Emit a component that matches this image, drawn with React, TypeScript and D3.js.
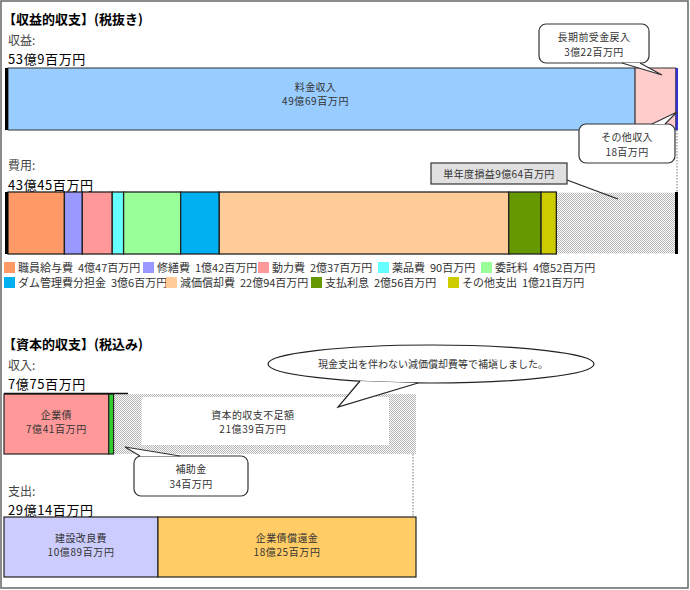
import React from 'react';
import * as d3 from 'd3';

// 収益的収支 (単位: 億円)
const revenueCats = ['料金収入', '長期前受金戻入', 'その他収入'];
const revenueVals = [49.69, 3.22, 0.18];
const revenueColors = ['#99ccff', '#ffcccc', '#3333cc'];

const expenseCats = ['職員給与費', '修繕費', '動力費', '薬品費', '委託料', 'ダム管理費分担金', '減価償却費', '支払利息', 'その他支出'];
const expenseVals = [4.47, 1.42, 2.37, 0.9, 4.52, 3.06, 22.94, 2.56, 1.21];
const expenseColors = ['#ff9966', '#9999ff', '#ff9999', '#66ffff', '#99ff99', '#00b0f0', '#ffcc99', '#669900', '#cccc00'];

// 資本的収支 (単位: 億円)
const capIncomeCats = ['企業債', '補助金'];
const capIncomeVals = [7.41, 0.34];
const capIncomeColors = ['#ff9999', '#33cc33'];

const capExpenseCats = ['建設改良費', '企業債償還金'];
const capExpenseVals = [10.89, 18.25];
const capExpenseColors = ['#ccccff', '#ffcc66'];

// legend layout (row, x)
const legendRow = [0, 0, 0, 0, 0, 1, 1, 1, 1];
const legendX = [4, 143, 258, 378, 481, 4, 166, 311, 448];

const FONT = '"Noto Sans CJK JP", "Noto Sans", sans-serif';

const fmt = (v: number) => {
  const oku = Math.floor(v + 1e-9);
  const man = Math.round((v - oku) * 100);
  return oku > 0 ? `${oku}億${man}百万円` : `${man}百万円`;
};

const stack = (vals: number[]) => {
  let acc = 0;
  return vals.map(v => {
    const s = acc;
    acc += v;
    return [s, acc];
  });
};

const Callout: React.FC<{ x: number; y: number; w: number; h: number; tail: [number, number][]; lines: string[] }> = ({ x, y, w, h, tail, lines }) => (
  <g>
    <rect x={x} y={y} width={w} height={h} rx={7} fill="#fff" stroke="#333" strokeWidth={1.2} />
    <path d={d3.line()(tail) + 'Z'} fill="#fff" stroke="none" />
    <path d={d3.line()(tail)!} fill="none" stroke="#333" strokeWidth={1.2} />
    {lines.map((t, i) => (
      <text key={i} x={x + w / 2} y={y + 17 + i * 15} textAnchor="middle" fontSize={10} fill="#333" letterSpacing={0.4}>{t}</text>
    ))}
  </g>
);

export default function App() {
  const revTotal = d3.sum(revenueVals);
  const expTotal = d3.sum(expenseVals);
  const capInTotal = d3.sum(capIncomeVals);
  const capOutTotal = d3.sum(capExpenseVals);

  const x1 = d3.scaleLinear().domain([0, revTotal]).range([8, 678]);
  const x2 = d3.scaleLinear().domain([0, capOutTotal]).range([4, 416]);

  const revStack = stack(revenueVals);
  const expStack = stack(expenseVals);
  const capInStack = stack(capIncomeVals);
  const capOutStack = stack(capExpenseVals);

  const revY = 68, revH = 62;
  const expY = 192, expH = 62;
  const ciY = 394, ciH = 60;
  const coY = 517, coH = 60;

  const barLabel = (cx: number, y: number, a: string, b: string) => (
    <g>
      <text x={cx} y={y + 25} textAnchor="middle" fontSize={10} fill="#333" letterSpacing={0.4}>{a}</text>
      <text x={cx} y={y + 39} textAnchor="middle" fontSize={10} fill="#333" letterSpacing={0.6}>{b}</text>
    </g>
  );

  return (
    <svg width={690} height={590} style={{ position: 'absolute', left: 0, top: 0 }} fontFamily={FONT}>
      <defs>
        <pattern id="hatch" width={2} height={2} patternUnits="userSpaceOnUse">
          <rect width={2} height={2} fill="#fff" shapeRendering="crispEdges" />
          <rect width={1} height={1} fill="#b4b4b4" shapeRendering="crispEdges" />
          <rect x={1} y={1} width={1} height={1} fill="#b4b4b4" shapeRendering="crispEdges" />
        </pattern>
      </defs>
      <rect x={0} y={0} width={690} height={590} fill="#fff" />
      <rect x={1} y={1} width={687} height={587} fill="none" stroke="#666" strokeWidth={1.5} />

      {/* 収益的収支 */}
      <text x={3} y={24} fontSize={13} fontWeight="bold" fill="#000">【収益的収支】(税抜き)</text>
      <text x={8} y={45} fontSize={12} fill="#444">収益:</text>
      <text x={8} y={64} fontSize={13} fill="#000" letterSpacing={0.6}>{fmt(revTotal)}</text>

      {revenueVals.map((v, i) => (
        <rect key={revenueCats[i]} x={x1(revStack[i][0])} y={revY} width={x1(revStack[i][1]) - x1(revStack[i][0])} height={revH}
          fill={revenueColors[i]} stroke="#333" strokeWidth={i === 2 ? 0 : 1} />
      ))}
      <rect x={5} y={revY} width={3} height={revH} fill="#000" />
      {barLabel((x1(revStack[0][0]) + x1(revStack[0][1])) / 2 - 6, revY - 2, revenueCats[0], fmt(revenueVals[0]))}

      <line x1={x1(revTotal) - 1} x2={x1(revTotal) - 1} y1={revY + revH} y2={expY} stroke="#555" strokeWidth={0.8} strokeDasharray="1.5,1.5" />

      <text x={8} y={170} fontSize={12} fill="#444">費用:</text>
      <text x={8} y={190} fontSize={13} fill="#000" letterSpacing={0.6}>{fmt(expTotal)}</text>

      {expenseVals.map((v, i) => (
        <rect key={expenseCats[i]} x={x1(expStack[i][0])} y={expY} width={x1(expStack[i][1]) - x1(expStack[i][0])} height={expH}
          fill={expenseColors[i]} stroke="#222" strokeWidth={1.3} />
      ))}
      <rect x={x1(expTotal) + 0.7} y={expY + 0.7} width={x1(revTotal) - x1(expTotal) - 0.7} height={expH - 1.4} fill="url(#hatch)" />
      <rect x={5} y={expY} width={3} height={expH} fill="#000" />
      <rect x={x1(revTotal) - 3} y={expY} width={3} height={expH} fill="#000" />

      {/* legend */}
      {expenseCats.map((c, i) => (
        <g key={c} transform={`translate(${legendX[i]},${262 + legendRow[i] * 15})`}>
          <rect width={11} height={11} fill={expenseColors[i]} />
          <text x={14} y={10} fontSize={11} fill="#333" style={{ whiteSpace: 'pre' }}>{`${c}  ${fmt(expenseVals[i])}`}</text>
        </g>
      ))}

      <Callout x={539} y={24} w={110} h={39} tail={[[622, 63], [662, 75], [640, 63]]} lines={[revenueCats[1], fmt(revenueVals[1])]} />
      <Callout x={579} y={124} w={96} h={39} tail={[[652, 124], [677, 112], [665, 124]]} lines={[revenueCats[2], fmt(revenueVals[2])]} />

      <line x1={567} y1={180} x2={618} y2={199} stroke="#222" strokeWidth={1.2} />
      <rect x={431} y={163} width={136} height={21} fill="#e0e0e0" stroke="#333" strokeWidth={1.2} />
      <text x={499} y={178} textAnchor="middle" fontSize={10} fill="#333" letterSpacing={0.4}>{`単年度損益${fmt(revTotal - expTotal)}`}</text>

      {/* 資本的収支 */}
      <text x={3} y={349} fontSize={13} fontWeight="bold" fill="#000">【資本的収支】(税込み)</text>
      <text x={8} y={370} fontSize={12} fill="#444">収入:</text>
      <text x={8} y={389} fontSize={13} fill="#000" letterSpacing={0.6}>{fmt(capInTotal)}</text>

      <rect x={x2(capInTotal)} y={ciY} width={x2(capOutTotal) - x2(capInTotal)} height={ciH} fill="url(#hatch)" />
      <rect x={x2(capInTotal) + 28} y={ciY + 3} width={x2(capOutTotal) - x2(capInTotal) - 55} height={ciH - 12} fill="#fff" />
      {barLabel((x2(capInTotal) + x2(capOutTotal)) / 2 - 12, ciY, '資本的収支不足額', fmt(capOutTotal - capInTotal))}

      {capIncomeVals.map((v, i) => (
        <rect key={capIncomeCats[i]} x={x2(capInStack[i][0])} y={ciY} width={x2(capInStack[i][1]) - x2(capInStack[i][0])} height={ciH}
          fill={capIncomeColors[i]} stroke="#222" strokeWidth={1.2} />
      ))}
      <line x1={4} x2={128} y1={ciY - 0.5} y2={ciY - 0.5} stroke="#111" strokeWidth={1.5} />
      {barLabel((x2(capInStack[0][0]) + x2(capInStack[0][1])) / 2, ciY, capIncomeCats[0], fmt(capIncomeVals[0]))}

      <line x1={x2(capOutTotal) - 3} x2={x2(capOutTotal) - 3} y1={ciY + ciH} y2={coY} stroke="#555" strokeWidth={0.8} strokeDasharray="1.5,1.5" />

      <Callout x={134} y={456} w={114} h={40} tail={[[140, 456], [125, 447], [180, 456]]} lines={[capIncomeCats[1], fmt(capIncomeVals[1])]} />

      {/* ellipse callout */}
      <ellipse cx={431} cy={364} rx={163} ry={19} fill="#fff" stroke="#222" strokeWidth={1.2} />
      <path d="M360,381 L338,407 L418,383 Z" fill="#fff" stroke="none" />
      <path d="M360,381 L338,407 L418,383" fill="none" stroke="#222" strokeWidth={1.2} />
      <text x={433} y={368} textAnchor="middle" fontSize={10} fill="#333">現金支出を伴わない減価償却費等で補塡しました。</text>

      <text x={8} y={496} fontSize={12} fill="#444">支出:</text>
      <text x={8} y={515} fontSize={13} fill="#000" letterSpacing={0.6}>{fmt(capOutTotal)}</text>

      {capExpenseVals.map((v, i) => (
        <g key={capExpenseCats[i]}>
          <rect x={x2(capOutStack[i][0])} y={coY} width={x2(capOutStack[i][1]) - x2(capOutStack[i][0])} height={coH}
            fill={capExpenseColors[i]} stroke="#222" strokeWidth={1.2} />
          {barLabel((x2(capOutStack[i][0]) + x2(capOutStack[i][1])) / 2, coY, capExpenseCats[i], fmt(v))}
        </g>
      ))}
    </svg>
  );
}
